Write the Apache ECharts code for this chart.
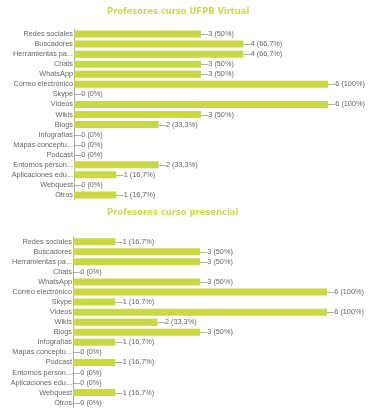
<!DOCTYPE html>
<html>
<head>
<meta charset="utf-8">
<script src="https://cdn.jsdelivr.net/npm/echarts@6/dist/echarts.min.js"></script>
<style>
  html, body { margin: 0; padding: 0; background: #fff; }
  #chart { width: 378px; height: 412px; }
</style>
</head>
<body>
<div id="chart"></div>
<script>
const categories = ['Redes sociales', 'Buscadores', 'Herramientas pa...', 'Chats', 'WhatsApp',
  'Correo electrónico', 'Skype', 'Videos', 'Wikis', 'Blogs', 'Infografías', 'Mapas conceptu...',
  'Podcast', 'Entornos person...', 'Aplicaciones edu...', 'Webquest', 'Otros']
const virtualValues = [3, 4, 4, 3, 3, 6, 0, 6, 3, 2, 0, 0, 0, 2, 1, 0, 1]
const presencialValues = [1, 3, 3, 0, 3, 6, 1, 6, 2, 3, 1, 0, 1, 0, 0, 1, 0]
const total = 6
const titles = ['Profesores curso UFPB Virtual', 'Profesores curso presencial']

const barColor = '#c9d845'
const textColor = '#666'

function pctLabel (p) {
  const v = p.value
  const pct = Math.round(v / total * 1000) / 10
  return '—' + v + ' (' + String(pct).replace('.', ',') + '%)'
}

const chart = echarts.init(document.getElementById('chart'))

function yAxisFor (idx) {
  return {
    type: 'category',
    gridIndex: idx,
    data: categories,
    inverse: true,
    axisLine: { show: true, lineStyle: { color: '#aaa', width: 1 } },
    axisTick: { show: false },
    axisLabel: { color: textColor, fontSize: 7.3, fontFamily: 'Liberation Sans', margin: 1, interval: 0 }
  }
}

function xAxisFor (idx) {
  return {
    type: 'value',
    gridIndex: idx,
    min: 0,
    max: total,
    show: false
  }
}

function seriesFor (idx, data) {
  return {
    type: 'bar',
    xAxisIndex: idx,
    yAxisIndex: idx,
    data: data,
    barWidth: 7,
    itemStyle: { color: barColor },
    label: {
      show: true,
      position: 'right',
      distance: 0,
      formatter: pctLabel,
      color: textColor,
      fontSize: 7.3,
      fontFamily: 'Liberation Sans'
    },
    silent: true
  }
}

const titleStyle = { color: '#cbd94e', fontSize: 8.4, fontWeight: 'bold', fontFamily: 'DejaVu Sans' }

const option = {
  animation: false,
  title: [
    { text: titles[0], left: 102, top: 3, textStyle: titleStyle },
    { text: titles[1], left: 102, top: 204, textStyle: titleStyle }
  ],
  grid: [
    { left: 74, top: 29, width: 254, height: 171 },
    { left: 73, top: 236.7, width: 254, height: 171 }
  ],
  xAxis: [xAxisFor(0), xAxisFor(1)],
  yAxis: [yAxisFor(0), yAxisFor(1)],
  series: [seriesFor(0, virtualValues), seriesFor(1, presencialValues)]
}

chart.setOption(option)
</script>
</body>
</html>
